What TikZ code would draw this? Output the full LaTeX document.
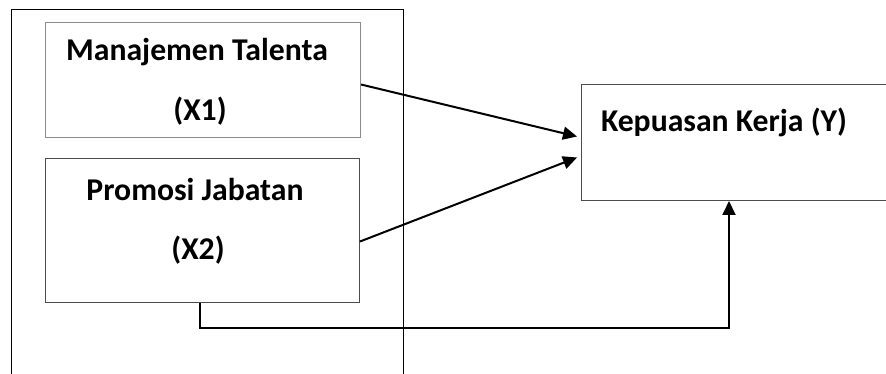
\documentclass[tikz,border=0pt]{standalone}
\usepackage{fontspec}
\setmainfont{Carlito}
\usetikzlibrary{arrows.meta,calc}
\begin{document}
\begin{tikzpicture}[x=1pt,y=-1pt,
  box/.style={draw, line width=1pt, minimum width=#1, inner sep=0pt, anchor=north west},
  lbl/.style={font=\fontsize{31.7}{36}\selectfont\bfseries, inner sep=0pt},
  conn/.style={line width=2pt, -{Triangle[length=14pt,width=13pt]}}]
\useasboundingbox (0,0) rectangle (886,374);
\clip (0,0) rectangle (886,374);
% outer frame (open at the bottom of the picture)
\node[box=392pt, minimum height=380pt, draw=black, line width=0.9pt] (outer) at (11,9) {};
% boxes
\node[box=315.5pt, minimum height=115pt, draw=black!45] (b1) at (44.5,22) {};
\node[box=314.5pt, minimum height=144pt, draw=black!70] (b2) at (44.5,158) {};
\node[box=330pt, minimum height=116pt, draw=black!70] (b3) at (581,84) {};
% labels
\node[lbl] (t1) at (197,52) {Manajemen Talenta};
\node[lbl] (t1b) at (200,111) {(X1)};
\node[lbl] (t2) at (195,189) {Promosi Jabatan};
\node[lbl] (t2b) at (198,250) {(X2)};
\node[lbl] (t3) at (724,122) {Kepuasan Kerja (Y)};
% connectors
\draw[conn] ([yshift=-4.5pt]b1.east) -- ([xshift=-4pt,yshift=6pt]b3.west);
\draw[conn] ([yshift=-11pt]b2.east) -- ([xshift=-4pt,yshift=-15pt]b3.west);
\coordinate (c3) at ([xshift=148pt]b3.south west);
\draw[conn] ([xshift=-2pt]b2.south) -- ++(0,25) -| (c3);
\end{tikzpicture}
\end{document}
